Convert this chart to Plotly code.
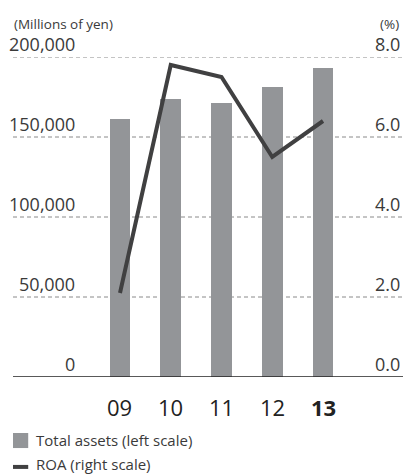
import plotly.graph_objects as go

# Fiscal years, total assets (millions of yen) and ROA (%)
years = ["09", "10", "11", "12", "13"]
total_assets = [161000, 174000, 171000, 181000, 193000]
roa = [2.1, 7.8, 7.5, 5.5, 6.4]

left_ticks = [0, 50000, 100000, 150000, 200000]
left_labels = ["0", "50,000", "100,000", "150,000", "200,000"]
right_ticks = [0.0, 2.0, 4.0, 6.0, 8.0]
right_labels = ["0.0", "2.0", "4.0", "6.0", "8.0"]

BAR = "#939598"
LINE = "#404041"
TXT = "#3a3a3a"
FONT = "Open Sans"

fig = go.Figure()
fig.add_trace(go.Bar(
    x=list(range(len(years))), y=total_assets, marker_color=BAR,
    marker_line_width=0, width=0.41, name="Total assets (left scale)",
    showlegend=False,
))
fig.add_trace(go.Scatter(
    x=list(range(len(years))), y=roa, yaxis="y2", mode="lines",
    line=dict(color=LINE, width=4), name="ROA (right scale)",
    showlegend=False,
))

annotations = []
# Left scale labels sit just above each gridline
for v, t in zip(left_ticks, left_labels):
    annotations.append(dict(
        x=0.164, xref="paper", y=v, yref="y", text=t, showarrow=False,
        xanchor="right", yanchor="bottom", yshift=-1,
        font=dict(family=FONT, size=18, color=TXT),
    ))
# Right scale labels
for v, t in zip(right_ticks, right_labels):
    annotations.append(dict(
        x=1.0, xref="paper", y=v, yref="y2", text=t, showarrow=False,
        xanchor="right", yanchor="bottom", yshift=-1, xshift=-1,
        font=dict(family=FONT, size=18, color=TXT),
    ))
# Year labels, latest year in bold
for i, yr in enumerate(years):
    txt = f"<b>{yr}</b>" if i == len(years) - 1 else yr
    annotations.append(dict(
        x=i, xref="x", y=0, yref="y", text=txt, showarrow=False,
        xanchor="center", yanchor="top", yshift=-13,
        font=dict(family=FONT, size=22, color="#222222"),
    ))
# Unit captions
annotations.append(dict(
    x=0.0, xref="paper", y=1.0, yref="paper", text="(Millions of yen)",
    showarrow=False, xanchor="left", yanchor="bottom", yshift=22, xshift=-1,
    font=dict(family=FONT, size=13.5, color=TXT),
))
annotations.append(dict(
    x=1.0, xref="paper", y=1.0, yref="paper", text="(%)",
    showarrow=False, xanchor="right", yanchor="bottom", yshift=22, xshift=-2,
    font=dict(family=FONT, size=13.5, color=TXT),
))
# Legend entries
annotations.append(dict(
    x=0.0, xref="paper", y=-0.0, yref="paper", text="Total assets (left scale)",
    showarrow=False, xanchor="left", yanchor="middle", xshift=21, yshift=-63,
    font=dict(family=FONT, size=15, color=TXT),
))
annotations.append(dict(
    x=0.0, xref="paper", y=-0.0, yref="paper", text="ROA (right scale)",
    showarrow=False, xanchor="left", yanchor="middle", xshift=21, yshift=-87,
    font=dict(family=FONT, size=15, color=TXT),
))

shapes = [
    dict(type="rect", xref="paper", yref="paper", x0=0, x1=0.039,
         y0=-0.175, y1=-0.222, fillcolor=BAR, line_width=0),
    dict(type="line", xref="paper", yref="paper", x0=0, x1=0.039,
         y0=-0.281, y1=-0.281, line=dict(color=LINE, width=4)),
]
# Dashed gridlines at each left-scale tick above zero
for v in left_ticks[1:]:
    shapes.append(dict(type="line", xref="paper", yref="y", x0=0, x1=1,
                       y0=v, y1=v, layer="below",
                       line=dict(color="#8a8a8a", width=1, dash="4px,3px")))
# Solid baseline
shapes.append(dict(type="line", xref="paper", yref="y", x0=0, x1=1,
                   y0=0, y1=0, line=dict(color="#222222", width=1.5)))

fig.update_layout(
    width=403, height=476,
    margin=dict(l=13, r=0, t=57, b=99),
    paper_bgcolor="white", plot_bgcolor="white",
    bargap=0,
    xaxis=dict(range=[-2.108, 5.576], showticklabels=False, showgrid=False,
               zeroline=False, showline=False, fixedrange=True),
    yaxis=dict(range=[0, 200000], showticklabels=False, showgrid=False,
               zeroline=False, showline=False),
    yaxis2=dict(range=[0, 8], overlaying="y", side="right", showgrid=False,
                showticklabels=False, zeroline=False, showline=False),
    annotations=annotations,
    shapes=shapes,
    showlegend=False,
)

fig.write_html("out.html")
